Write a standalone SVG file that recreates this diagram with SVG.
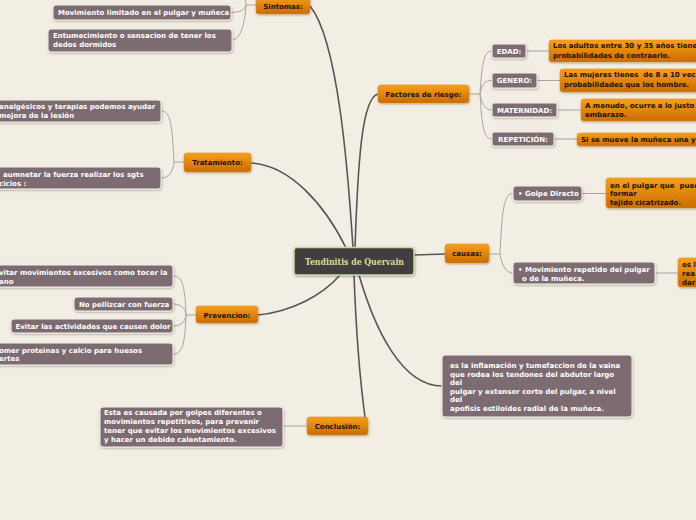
<svg xmlns="http://www.w3.org/2000/svg" width="696" height="520" viewBox="0 0 696 520">
<defs>
<linearGradient id="og" x1="0" y1="0" x2="0" y2="1">
<stop offset="0" stop-color="#f7a01a"/>
<stop offset="1" stop-color="#c96c00"/>
</linearGradient>
<filter id="sh" x="-10%" y="-20%" width="120%" height="150%">
<feDropShadow dx="0.5" dy="1" stdDeviation="0.8" flood-color="#000" flood-opacity="0.3"/>
</filter>
</defs>
<style>
.o rect{fill:url(#og);stroke:#d98a1a;stroke-width:0.5;filter:url(#sh)}
.g rect{fill:#7b6c71;stroke:#f4f2ee;stroke-width:1;filter:url(#sh)}
text{font-family:"DejaVu Sans","Verdana",sans-serif;font-weight:bold;font-size:7px;white-space:pre}
.o text{fill:#1b1208}
.g text{fill:#ffffff}
.m{text-anchor:middle}
.main path{fill:none;stroke:#5a5457;stroke-width:1.6}
.sub path{fill:none;stroke:#a8a3a0;stroke-width:1}
</style>
<rect x="0" y="0" width="696" height="520" fill="#f3eee3"/>
<g id="connectors">
<g class="main">
<path d="M353 248 C348 170 338 40 310 6"/>
<path d="M355 248 C358 160 362 98 378 94"/>
<path d="M251 163 C290 165 325 205 346 248"/>
<path d="M258 315 C290 312 322 296 340 275"/>
<path d="M354 275 C356 330 360 380 365 417"/>
<path d="M359 275 C375 330 402 386 442 386"/>
<path d="M414 255 L446 254"/>
</g>
<g class="sub">
<path d="M256 5 H246"/>
<path d="M246 5 C245 10 240 12.5 231 12.5"/>
<path d="M246 5 C245 25 240 40 232 40"/>
<path d="M246 5 C246 0 244 -3 241 -6"/>
<path d="M469 94 H480"/>
<path d="M480 94 C482 62 484 51 492 51"/>
<path d="M480 94 C482 84 485 80.5 492 80.5"/>
<path d="M480 94 C482 104 485 110 492 110"/>
<path d="M480 94 C482 128 484 139 492 139"/>
<path d="M526 51 H549"/>
<path d="M537 80.5 H560"/>
<path d="M557 110 H581"/>
<path d="M554 139 H577"/>
<path d="M184 162 H174"/>
<path d="M174 162 C172 122 170 111 161 111"/>
<path d="M174 162 C173 172 169 178 161 178"/>
<path d="M196 315 H186"/>
<path d="M186 315 C185 285 182 276 173 276"/>
<path d="M186 315 C185 308 181 304 173 304"/>
<path d="M186 315 C185 322 181 326 173 326"/>
<path d="M186 315 C185 345 182 354 173 354"/>
<path d="M307 426 H283"/>
<path d="M489 254 H500"/>
<path d="M500 254 C502 205 505 193.5 513 193.5"/>
<path d="M500 254 C502 266 506 273 513 273"/>
<path d="M582 193.5 H606"/>
<path d="M655 273 H678"/>
</g>
</g>
<g id="central">
<rect x="294" y="247.5" width="120" height="27.5" rx="3" fill="#433c40" stroke="#c6d99a" stroke-width="1.5" filter="url(#sh)"/>
<text x="305" y="265" textLength="99" lengthAdjust="spacingAndGlyphs" style="font-family:'DejaVu Serif',serif;font-size:8.6px;fill:#d4df8e">Tendinitis de Quervain</text>
</g>
<g id="sintomas" class="o"><rect x="256" y="-4" width="54" height="18" rx="3"/><text class="m" x="283" y="8.5">Sintomas:</text></g>
<g id="sint1" class="g"><rect x="53" y="5" width="178" height="15" rx="3"/><text x="58" y="15">Movimiento limitado en el pulgar y muñeca</text></g>
<g id="sint2" class="g"><rect x="48" y="29" width="184" height="23" rx="3"/><text x="53" y="37.5">Entumecimiento o sensacion de tener los</text><text x="53" y="46.5">dedos dormidos</text></g>
<g id="factores" class="o"><rect x="378" y="85" width="91" height="18" rx="3"/><text class="m" x="423.5" y="96.5">Factores de riesgo:</text></g>
<g id="edad" class="g"><rect x="492" y="44" width="34" height="14" rx="2"/><text class="m" x="509" y="53.5">EDAD:</text></g>
<g id="genero" class="g"><rect x="492" y="73" width="45" height="15" rx="2"/><text class="m" x="514.5" y="83">GENERO:</text></g>
<g id="maternidad" class="g"><rect x="492" y="103" width="65" height="14" rx="2"/><text class="m" x="524.5" y="112.5">MATERNIDAD:</text></g>
<g id="repeticion" class="g"><rect x="492" y="132" width="62" height="14" rx="2"/><text class="m" x="523" y="141.5">REPETICIÓN:</text></g>
<g id="edad-txt" class="o"><rect x="549" y="40" width="160" height="22" rx="3"/><text x="553" y="48">Los adultos entre 30 y 35 años tienen</text><text x="553" y="57.5">probabilidades de contraerlo.</text></g>
<g id="genero-txt" class="o"><rect x="560" y="69" width="150" height="23" rx="3"/><text x="564" y="77">Las mujeres tienes  de 8 a 10 veces</text><text x="564" y="86.5">probabilidades que los hombre.</text></g>
<g id="maternidad-txt" class="o"><rect x="581" y="99" width="130" height="22" rx="3"/><text x="585" y="107.5">A menudo, ocurre a lo justo</text><text x="585" y="117">embarazo.</text></g>
<g id="repeticion-txt" class="o"><rect x="577" y="133" width="130" height="13" rx="3"/><text x="581" y="141.5">Si se mueve la muñeca una y</text></g>
<g id="tratamiento" class="o"><rect x="184" y="153" width="67" height="19" rx="3"/><text class="m" x="217.5" y="165">Tratamiento:</text></g>
<g id="trat1" class="g"><rect x="-10" y="100" width="171" height="22" rx="3"/><text x="-1" y="109">analgésicos y terapias podemos ayudar</text><text x="-1" y="118">mejora de la lesión</text></g>
<g id="trat2" class="g"><rect x="-10" y="167" width="171" height="22" rx="3"/><text x="3" y="176.5">aumnetar la fuerza realizar los sgts</text><text x="-1" y="186">cicios :</text></g>
<g id="prevencion" class="o"><rect x="196" y="306" width="62" height="17" rx="3"/><text class="m" x="227" y="317.5">Prevencion:</text></g>
<g id="prev1" class="g"><rect x="-10" y="265" width="183" height="22" rx="3"/><text x="-1" y="275">vitar movimientos excesivos como tocer la</text><text x="-1" y="283.5">ano</text></g>
<g id="prev2" class="g"><rect x="74" y="297" width="99" height="14" rx="3"/><text x="79" y="306.5">No pellizcar con fuerza</text></g>
<g id="prev3" class="g"><rect x="11" y="319" width="162" height="14" rx="3"/><text x="15.5" y="329">Evitar las actividades que causen dolor</text></g>
<g id="prev4" class="g"><rect x="-10" y="343" width="183" height="22" rx="3"/><text x="-1" y="352.5">omer proteinas y calcio para huesos</text><text x="-1" y="361">ertes</text></g>
<g id="conclusion" class="o"><rect x="307" y="417" width="61" height="18" rx="3"/><text class="m" x="337.5" y="428.5">Conclusión:</text></g>
<g id="conclusion-txt" class="g"><rect x="100" y="407" width="183" height="40" rx="3"/><text x="104" y="415">Esta es causada por golpes diferentes o</text><text x="104" y="424">movimientos repetitivos, para prevenir</text><text x="104" y="433">tener que evitar los movimientos excesivos</text><text x="104" y="441.5">y hacer un debido calentamiento.</text></g>
<g id="definicion" class="g"><rect x="442" y="355" width="190" height="62" rx="3"/><text x="450" y="368">es la inflamación y tumefaccion de la vaina</text><text x="450" y="376.5">que rodea los tendones del abdutor largo</text><text x="450" y="385">del</text><text x="450" y="393.5">pulgar y extensor corto del pulgar, a nivel</text><text x="450" y="402">del</text><text x="450" y="410.5">apofisis estiloides radial de la muñeca.</text></g>
<g id="causas" class="o"><rect x="445" y="244" width="44" height="19" rx="3"/><text class="m" x="467" y="256">causas:</text></g>
<g id="golpe" class="g"><rect x="513" y="186" width="69" height="15" rx="3"/><text x="518" y="196">• Golpe Directo</text></g>
<g id="movrep" class="g"><rect x="513" y="262" width="142" height="22" rx="3"/><text x="518" y="272">• Movimiento repetido del pulgar</text><text x="522" y="280.5">o de la muñeca.</text></g>
<g id="golpe-txt" class="o"><rect x="606" y="178" width="100" height="30" rx="3"/><text x="610" y="187.5">en el pulgar que  pued</text><text x="610" y="196">formar</text><text x="610" y="204.5">tejido cicatrizado.</text></g>
<g id="movrep-txt" class="o"><rect x="678" y="258" width="30" height="29" rx="3"/><text x="682" y="267">es l</text><text x="682" y="276">rea</text><text x="682" y="284.5">dar</text></g>
</svg>
